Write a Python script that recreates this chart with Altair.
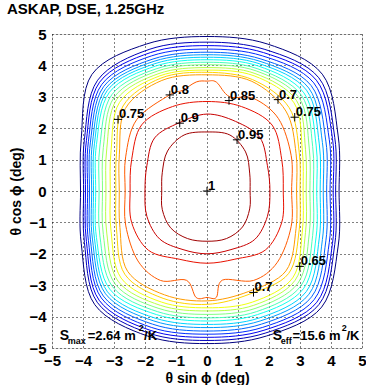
import altair as alt
import pandas as pd
import numpy as np

# ---- contour levels (relative beam sensitivity) ----
levels = [0.10, 0.15, 0.20, 0.25, 0.30, 0.35, 0.40, 0.45, 0.50,
          0.55, 0.60, 0.65, 0.70, 0.75, 0.80, 0.85, 0.90, 0.95]

angles16 = [0, 22.5, 45, 67.5, 90, 112.5, 135, 157.5,
            180, 202.5, 225, 247.5, 270, 292.5, 315, 337.5]

# contour radii (deg) along angles16
r_010 = [4.26, 4.58, 5.26, 5.07, 4.92, 5.07, 5.25, 4.39, 4.08, 4.39, 5.12, 5.00, 4.86, 5.00, 5.23, 4.58]
r_015 = [4.15, 4.46, 5.10, 4.88, 4.74, 4.88, 4.99, 4.28, 3.98, 4.28, 5.01, 4.90, 4.76, 4.90, 5.11, 4.46]
r_020 = [4.07, 4.38, 4.99, 4.77, 4.63, 4.77, 4.90, 4.21, 3.92, 4.21, 4.92, 4.80, 4.66, 4.80, 5.01, 4.38]
r_025 = [3.97, 4.27, 4.87, 4.66, 4.52, 4.66, 4.80, 4.14, 3.85, 4.14, 4.82, 4.70, 4.56, 4.70, 4.89, 4.27]
r_030 = [3.86, 4.15, 4.75, 4.55, 4.42, 4.55, 4.71, 4.07, 3.79, 4.07, 4.73, 4.59, 4.46, 4.59, 4.77, 4.15]
r_035 = [3.75, 4.03, 4.64, 4.47, 4.34, 4.47, 4.62, 4.00, 3.72, 4.00, 4.63, 4.48, 4.35, 4.48, 4.65, 4.03]
r_040 = [3.65, 3.92, 4.54, 4.39, 4.26, 4.39, 4.54, 3.93, 3.66, 3.93, 4.54, 4.38, 4.25, 4.38, 4.53, 3.92]
r_045 = [3.54, 3.81, 4.42, 4.31, 4.18, 4.31, 4.45, 3.86, 3.59, 3.86, 4.43, 4.26, 4.14, 4.26, 4.40, 3.81]
r_050 = [3.43, 3.69, 4.31, 4.22, 4.10, 4.22, 4.34, 3.74, 3.48, 3.74, 4.31, 4.16, 4.04, 4.16, 4.28, 3.69]
r_055 = [3.32, 3.57, 4.20, 4.14, 4.02, 4.14, 4.23, 3.62, 3.37, 3.62, 4.19, 4.05, 3.93, 4.05, 4.15, 3.57]
r_060 = [3.20, 3.44, 4.08, 4.05, 3.93, 4.05, 4.12, 3.50, 3.26, 3.50, 4.06, 3.94, 3.82, 3.94, 4.02, 3.44]
r_065 = [3.10, 3.33, 3.97, 3.97, 3.85, 3.97, 3.99, 3.35, 3.12, 3.35, 3.92, 3.83, 3.72, 3.83, 3.91, 3.33]
r_070 = [3.00, 3.22, 3.75, 3.84, 3.78, 3.89, 3.83, 3.16, 2.94, 3.16, 3.75, 3.70, 3.61, 3.56, 3.72, 3.22]
r_075 = [2.89, 3.11, 3.60, 3.78, 3.70, 3.81, 3.72, 3.06, 2.83, 3.04, 3.62, 3.58, 3.50, 3.47, 3.60, 3.11]
r_085 = [2.46, 2.61, 2.97, 2.91, 2.85, 2.91, 2.98, 2.63, 2.48, 2.63, 2.67, 2.35, 2.30, 2.35, 2.66, 2.61]
r_090 = [2.03, 2.11, 2.41, 2.40, 2.45, 2.35, 2.39, 2.10, 2.00, 2.10, 2.16, 2.02, 2.00, 2.02, 2.18, 2.11]
r_095 = [1.39, 1.49, 1.76, 1.93, 1.88, 1.93, 1.80, 1.56, 1.46, 1.56, 1.66, 1.64, 1.60, 1.64, 1.62, 1.49]

# the 0.8 contour has a bump at the top and a notch at the bottom
angles_080 = [0, 22.5, 45, 63, 76.3, 85, 90, 95.7, 104, 111.4, 135, 157.5,
              180, 202.5, 225, 242.2, 256.9, 264.1, 270, 275.1, 280, 297.8, 315, 337.5]
r_080 = [2.73, 2.94, 3.26, 3.31, 3.09, 3.48, 3.50, 3.49, 3.30, 3.29, 3.21, 2.84,
         2.64, 2.84, 3.15, 3.22, 2.92, 3.41, 3.39, 3.40, 2.88, 3.22, 3.21, 2.94]

# contour labels (clabel "+" positions)
label_text = ["0.8", "0.85", "0.7", "0.75", "0.75", "0.9", "0.95", "1", "0.65", "0.7"]
label_x = [-1.20, 0.71, 2.29, -2.87, 2.83, -0.88, 0.97, 0.00, 2.99, 1.50]
label_y = [3.06, 2.88, 2.91, 2.28, 2.35, 2.16, 1.63, 0.00, -2.40, -3.23]

ticks = [-5, -4, -3, -2, -1, 0, 1, 2, 3, 4, 5]

# jet-like line colours, one per level (style)
level_colors = ["#000080", "#0000b8", "#0000f0", "#002bff", "#0063ff", "#009cff",
                "#00d4ff", "#0fffef", "#47ffb8", "#80ff80", "#b8ff47", "#f0ff0f",
                "#ffd400", "#ff9c00", "#ff5a00", "#e81000", "#c80000", "#a00000"]

radii = [r_010, r_015, r_020, r_025, r_030, r_035, r_040, r_045, r_050,
         r_055, r_060, r_065, r_070, r_075, r_080, r_085, r_090, r_095]
angle_sets = [angles16] * 14 + [angles_080] + [angles16] * 3

rows = []
for lev, angs, rr in zip(levels, angle_sets, radii):
    for i, (a, r) in enumerate(zip(angs, rr)):
        t = np.deg2rad(a)
        rows.append({"level": f"{lev:.2f}", "order": i,
                     "x": r * np.cos(t), "y": r * np.sin(t)})
df = pd.DataFrame(rows)
level_names = [f"{l:.2f}" for l in levels]

lab = pd.DataFrame({"t": label_text, "x": label_x, "y": label_y})

FONT = "Liberation Sans"
xs = alt.Scale(domain=[-5, 5], nice=False, zero=False)
ys = alt.Scale(domain=[-5, 5], nice=False, zero=False)

lines = alt.Chart(df).mark_line(interpolate="cardinal-closed", strokeWidth=1).encode(
    x=alt.X("x:Q", scale=xs, axis=alt.Axis(title="θ sin ϕ (deg)", values=ticks,
                                           tickCount=len(ticks),
                                           labelPadding=5, titlePadding=3)),
    y=alt.Y("y:Q", scale=ys, axis=alt.Axis(title="θ cos ϕ (deg)", values=ticks,
                                           tickCount=len(ticks),
                                           labelPadding=6, titlePadding=5)),
    color=alt.Color("level:N", scale=alt.Scale(domain=level_names, range=level_colors),
                    legend=None),
    order="order:Q",
)

plus = alt.Chart(lab).mark_point(shape="M-1,0L1,0M0,-1L0,1", size=70, color="black",
                                 strokeWidth=1, filled=False, opacity=1).encode(
    x=alt.X("x:Q", scale=xs), y=alt.Y("y:Q", scale=ys))

texts = alt.Chart(lab).mark_text(align="left", baseline="alphabetic", dx=1, dy=-1,
                                 fontSize=13, font=FONT, fontWeight="bold",
                                 color="black").encode(
    x=alt.X("x:Q", scale=xs), y=alt.Y("y:Q", scale=ys), text="t:N")

# S_max / S_eff annotations
ann_text = ["S", "max", "=2.64 m", "2", "/K", "S", "eff", "=15.6 m", "2", "/K"]
ann_x = [-4.75, -4.49, -3.85, -2.20, -2.03, 2.12, 2.38, 2.76, 4.35, 4.50]
ann_y = [-4.75, -4.87, -4.75, -4.46, -4.75, -4.75, -4.87, -4.75, -4.46, -4.75]
ann_size = [14, 9, 13, 9, 13, 14, 9, 13, 9, 13]
ann = pd.DataFrame({"t": ann_text, "x": ann_x, "y": ann_y, "s": ann_size})
ann_marks = alt.Chart(ann).mark_text(align="left", baseline="alphabetic", font=FONT,
                                     fontWeight="bold", color="black").encode(
    x=alt.X("x:Q", scale=xs), y=alt.Y("y:Q", scale=ys),
    text="t:N", size=alt.Size("s:Q", scale=None, legend=None))

chart = alt.layer(lines, plus, texts, ann_marks).properties(
    width=310, height=314,
    title=alt.TitleParams("ASKAP, DSE, 1.25GHz", anchor="start", frame="group",
                          dx=-45, offset=10, fontSize=15, font=FONT,
                          fontWeight="bold", color="black"),
    autosize=alt.AutoSizeParams(type="none"),
    padding={"left": 52, "top": 34, "right": 4, "bottom": 37},
).configure_view(stroke="black", strokeWidth=1).configure(background="white"
).configure_axis(
    grid=True, gridColor="black", gridDash=[1, 3], gridOpacity=1, gridWidth=1,
    ticks=False, domain=False, labelOverlap=False, labelFlush=False,
    labelFont=FONT, labelFontSize=15, labelFontWeight="bold", labelColor="black",
    titleFont=FONT, titleFontSize=14, titleFontWeight="bold", titleColor="black",
)

chart.save("out.html", embed_options={"renderer": "svg", "actions": False})
